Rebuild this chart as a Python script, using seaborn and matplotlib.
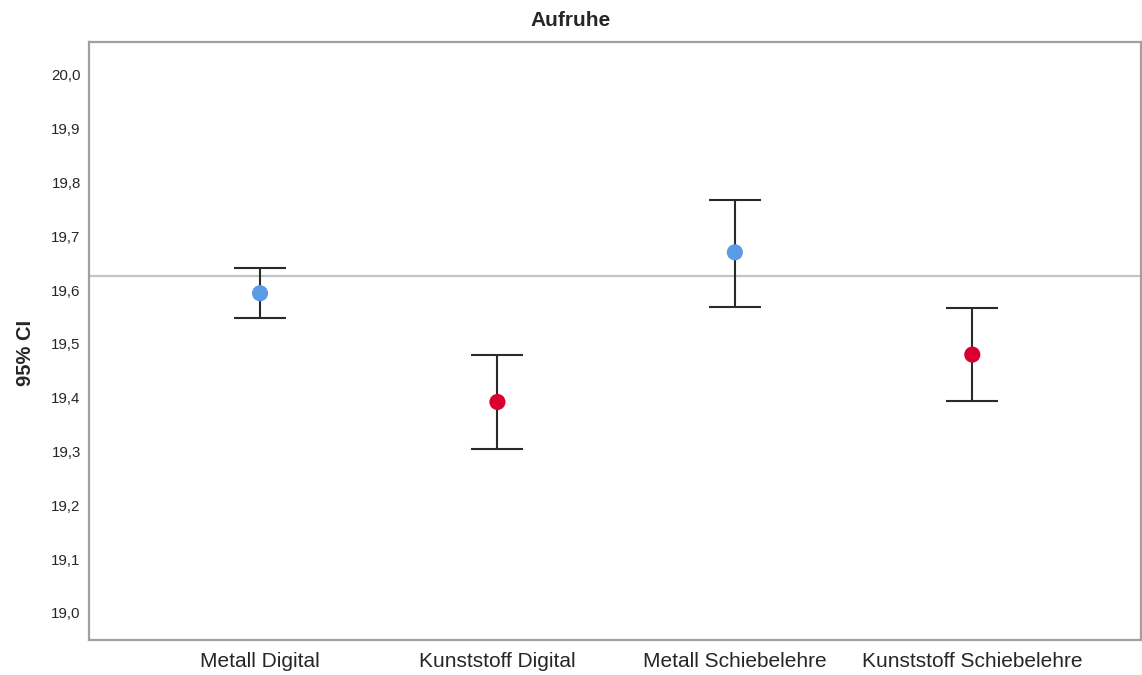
import matplotlib
matplotlib.use("Agg")
import matplotlib.pyplot as plt
import seaborn as sns
import pandas as pd
from matplotlib.ticker import FuncFormatter

# ---- data ----
groups = ["Metall Digital", "Kunststoff Digital", "Metall Schiebelehre", "Kunststoff Schiebelehre"]
material = ["Metall", "Kunststoff", "Metall", "Kunststoff"]
means = [19.594, 19.392, 19.670, 19.480]
ci_lower = [19.548, 19.305, 19.569, 19.393]
ci_upper = [19.641, 19.480, 19.768, 19.566]
ref_value = 19.626
y_ticks = [19.0, 19.1, 19.2, 19.3, 19.4, 19.5, 19.6, 19.7, 19.8, 19.9, 20.0]

df = pd.DataFrame({"group": groups, "material": material, "mean": means,
                   "lo": ci_lower, "hi": ci_upper})

sns.set_style("white")
plt.rcParams["font.family"] = ["Liberation Sans", "DejaVu Sans"]

fig, ax = plt.subplots(figsize=(11.42, 6.75), dpi=100)
fig.subplots_adjust(left=0.078, right=0.999, top=0.938, bottom=0.052)

# reference line behind everything
ax.axhline(ref_value, color="#c4c4c4", lw=1.6, zorder=1)

# black CI bars with caps
ax.errorbar(df["group"], df["mean"],
            yerr=[df["mean"] - df["lo"], df["hi"] - df["mean"]],
            fmt="none", ecolor="#2a2a2a", elinewidth=1.5, capsize=19, capthick=1.5, zorder=2)

# coloured mean markers
sns.scatterplot(data=df, x="group", y="mean", hue="material",
                palette={"Metall": "#5a9be6", "Kunststoff": "#d9002f"},
                s=135, edgecolor="none", legend=False, zorder=3, ax=ax)

ax.set_ylim(18.950, 20.061)
ax.set_xlim(-0.72, 3.71)
ax.set_yticks(y_ticks)
ax.yaxis.set_major_formatter(FuncFormatter(lambda v, p: f"{v:.1f}".replace(".", ",")))

# title centred on the figure, not the axes
fig.text(0.5, 0.970, "Aufruhe", ha="center", va="center", fontsize=15, fontweight="bold")
ax.set_ylabel("95% CI", fontsize=14.5, fontweight="bold")
ax.yaxis.set_label_coords(-0.051, 0.48)
ax.set_xlabel("")
ax.tick_params(axis="x", labelsize=15, length=0, pad=9)
ax.tick_params(axis="y", labelsize=10.8, length=0, pad=6)

for side in ["left", "bottom", "top", "right"]:
    ax.spines[side].set_visible(True)
    ax.spines[side].set_color("#a0a0a0")
    ax.spines[side].set_linewidth(1.6)

fig.savefig("out.png", dpi=100, facecolor="white")
